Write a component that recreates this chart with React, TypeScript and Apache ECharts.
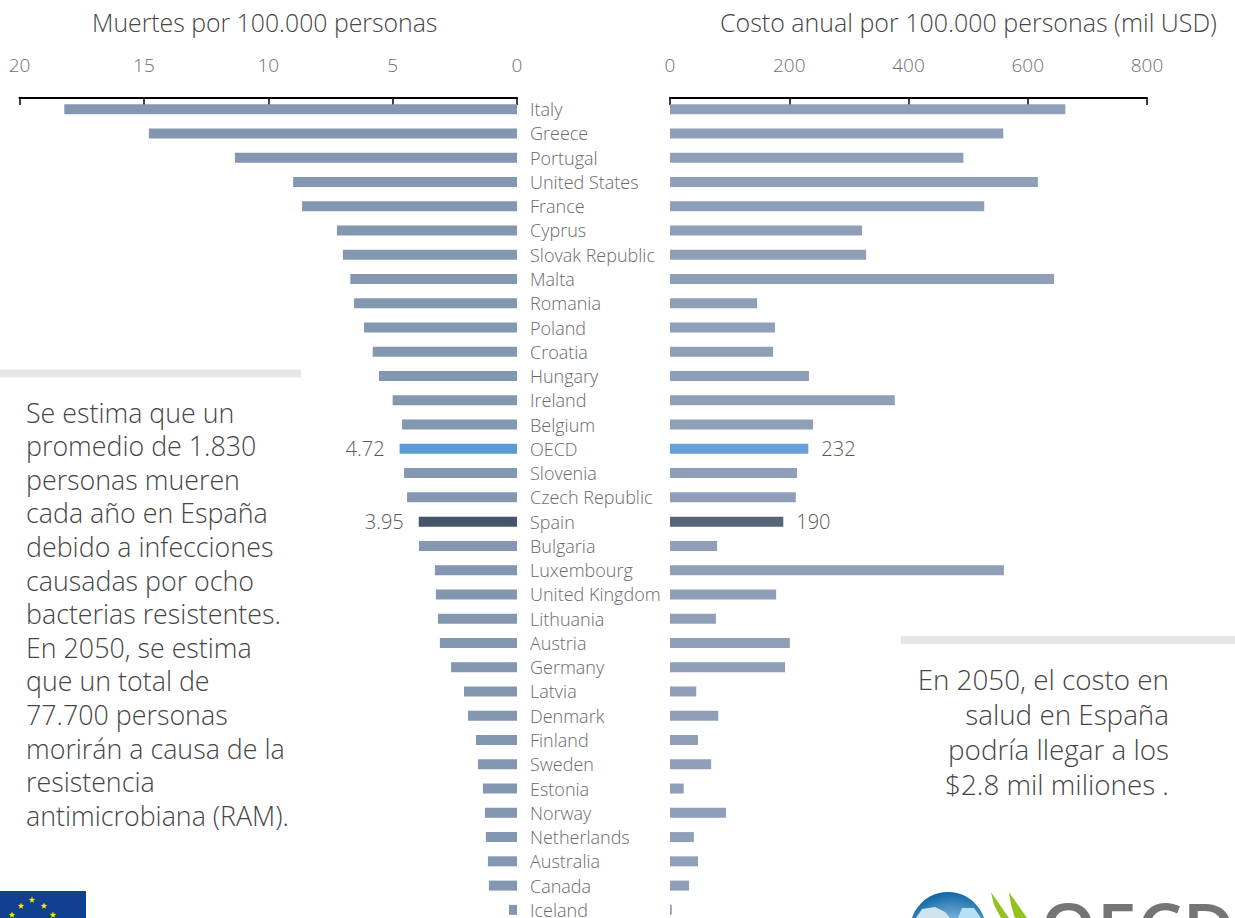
import React, { useEffect, useRef } from "react";
import * as echarts from "echarts";

const countries = ["Italy","Greece","Portugal","United States","France","Cyprus","Slovak Republic","Malta","Romania","Poland","Croatia","Hungary","Ireland","Belgium","OECD","Slovenia","Czech Republic","Spain","Bulgaria","Luxembourg","United Kingdom","Lithuania","Austria","Germany","Latvia","Denmark","Finland","Sweden","Estonia","Norway","Netherlands","Australia","Canada","Iceland"];
const deaths = [18.2,14.8,11.34,9.0,8.64,7.24,7.0,6.7,6.55,6.15,5.8,5.55,5.0,4.62,4.72,4.54,4.42,3.95,3.94,3.3,3.26,3.18,3.1,2.65,2.13,1.97,1.65,1.57,1.37,1.29,1.25,1.17,1.13,0.32];
const costs = [663,559,492,617,527,322,329,644,146,176,173,233,377,240,232,213,211,190,79,560,178,77,201,193,44,81,47,69,23,94,40,47,32,3];
const leftTitle = "Muertes por 100.000 personas";
const rightTitle = "Costo anual por 100.000 personas (mil USD)";
const leftNote = ["Se estima que un","promedio de 1.830","personas mueren","cada año en España","debido a infecciones","causadas por ocho","bacterias resistentes.","En 2050, se estima","que un total de","77.700 personas","morirán a causa de la","resistencia","antimicrobiana (RAM)."];
const rightNote = ["En 2050, el costo en","salud en España","podría llegar a los","$2.8 mil miliones ."];

const FONT = '"Open Sans", sans-serif';
const GREY_TEXT = "#454545";
const LABEL_TEXT = "#6a6a6a";

function star(cx: number, cy: number, r: number) {
  const pts: number[][] = [];
  for (let i = 0; i < 10; i++) {
    const a = -Math.PI / 2 + (i * Math.PI) / 5;
    const q = i % 2 === 0 ? r : r * 0.42;
    pts.push([cx + q * Math.cos(a), cy + q * Math.sin(a)]);
  }
  return { type: "polygon", shape: { points: pts }, style: { fill: "#ffe600" } };
}

function noteLines(lines: string[], x: number, y: number, align: string, size: number, step: number) {
  return lines.map((t, i) => ({
    type: "text",
    x,
    y: y + i * step,
    style: { text: t, fill: GREY_TEXT, font: `300 ${size}px ${FONT}`, textAlign: align, textVerticalAlign: "middle" },
  }));
}

function barData(values: number[], base: string, oecd: string, spain: string, labelSide: string, dist: number) {
  return values.map((v, i) => {
    const name = countries[i];
    if (name === "OECD" || name === "Spain") {
      return {
        value: v,
        itemStyle: { color: name === "OECD" ? oecd : spain },
        label: { show: true, position: labelSide, distance: dist, color: "#595959", fontSize: 20, fontFamily: FONT, fontWeight: 300 },
      };
    }
    return { value: v, itemStyle: { color: base } };
  });
}

export default function App() {
  const ref = useRef<HTMLDivElement>(null);
  useEffect(() => {
    const chart = echarts.init(ref.current!, null, { renderer: "svg" });
    const xAxisBase = {
      type: "value",
      position: "top",
      offset: -1,
      axisLine: { show: true, onZero: false, lineStyle: { color: "#000", width: 2 } },
      axisTick: { show: true, inside: true, length: 7, lineStyle: { color: "#000", width: 1.5 } },
      splitLine: { show: false },
      axisLabel: { margin: 24, color: "#707070", fontSize: 19, fontFamily: FONT, fontWeight: 300 },
    };
    chart.setOption({
      animation: false,
      backgroundColor: "#fff",
      title: [
        { text: leftTitle, left: 87, top: 4, textStyle: { color: GREY_TEXT, fontSize: 24.8, fontWeight: 300, fontFamily: FONT } },
        { text: rightTitle, left: 715, top: 4, textStyle: { color: GREY_TEXT, fontSize: 25, fontWeight: 300, fontFamily: FONT } },
      ],
      grid: [
        { left: 19.5, width: 497.5, top: 97, height: 825 },
        { left: 670, width: 477, top: 97, height: 825 },
      ],
      xAxis: [
        { ...xAxisBase, gridIndex: 0, min: 0, max: 20, interval: 5, inverse: true },
        { ...xAxisBase, gridIndex: 1, min: 0, max: 800, interval: 200 },
      ],
      yAxis: [
        {
          type: "category", gridIndex: 0, data: countries, inverse: true, position: "right",
          axisLine: { show: false }, axisTick: { show: false },
          axisLabel: { interval: 0, margin: 13, color: LABEL_TEXT, fontSize: 18, fontFamily: FONT, fontWeight: 300, align: "left", padding: [0, 0, 4, 0] },
        },
        {
          type: "category", gridIndex: 1, data: countries, inverse: true,
          axisLine: { show: false }, axisTick: { show: false }, axisLabel: { show: false },
        },
      ],
      series: [
        { type: "bar", xAxisIndex: 0, yAxisIndex: 0, barWidth: 10, data: barData(deaths, "#8497b0", "#5b9bd5", "#44546a", "left", 15) },
        { type: "bar", xAxisIndex: 1, yAxisIndex: 1, barWidth: 10, data: barData(costs, "#8f9fb7", "#689fd8", "#566579", "right", 13) },
      ],
      graphic: [
        { type: "rect", shape: { x: 0, y: 369.5, width: 301, height: 8 }, style: { fill: "#e7e6e6" } },
        { type: "rect", shape: { x: 901, y: 636, width: 334, height: 8 }, style: { fill: "#e7e6e6" } },
        ...noteLines(leftNote, 26, 412, "left", 26.8, 33.6),
        ...noteLines(rightNote, 1169, 679, "right", 27.8, 35),
        { type: "rect", shape: { x: 0, y: 891, width: 86, height: 40 }, style: { fill: "#10408f" } },
        star(21, 906, 3.4), star(32, 900, 3.4), star(44, 906, 3.4), star(12, 915, 3.4), star(53, 915, 3.4),
        {
          type: "circle", shape: { cx: 948, cy: 930, r: 38 },
          style: {
            fill: new echarts.graphic.RadialGradient(0.55, 0.75, 0.75, [
              { offset: 0, color: "#b5dcf0" },
              { offset: 0.5, color: "#7fb6d8" },
              { offset: 1, color: "#0f67a6" },
            ]),
          },
        },
        { type: "polygon", shape: { points: [[916, 918], [922, 909], [935, 907], [945, 912], [950, 918]] }, style: { fill: "#cfe3ee" } },
        { type: "polygon", shape: { points: [[958, 918], [962, 908], [974, 908], [981, 918]] }, style: { fill: "#b8e0f5" } },
        { type: "polygon", shape: { points: [[991, 892], [1000, 905], [1009, 918], [1001, 918], [994, 905]] }, style: { fill: "#95c11f" } },
        { type: "polygon", shape: { points: [[1009, 892], [1018, 905], [1027, 918], [1015, 918], [1011, 905]] }, style: { fill: "#95c11f" } },
        {
          type: "text", x: 1040, y: 892,
          style: { text: "OECD", fill: "#757575", font: `600 72px ${FONT}`, textVerticalAlign: "top" },
        },
      ],
    });
    return () => chart.dispose();
  }, []);
  return (
    <div style={{ position: "fixed", left: 0, top: 0, width: 1235, height: 918, overflow: "hidden", background: "#fff" }}>
      <div ref={ref} style={{ width: 1235, height: 1000 }} />
    </div>
  );
}
